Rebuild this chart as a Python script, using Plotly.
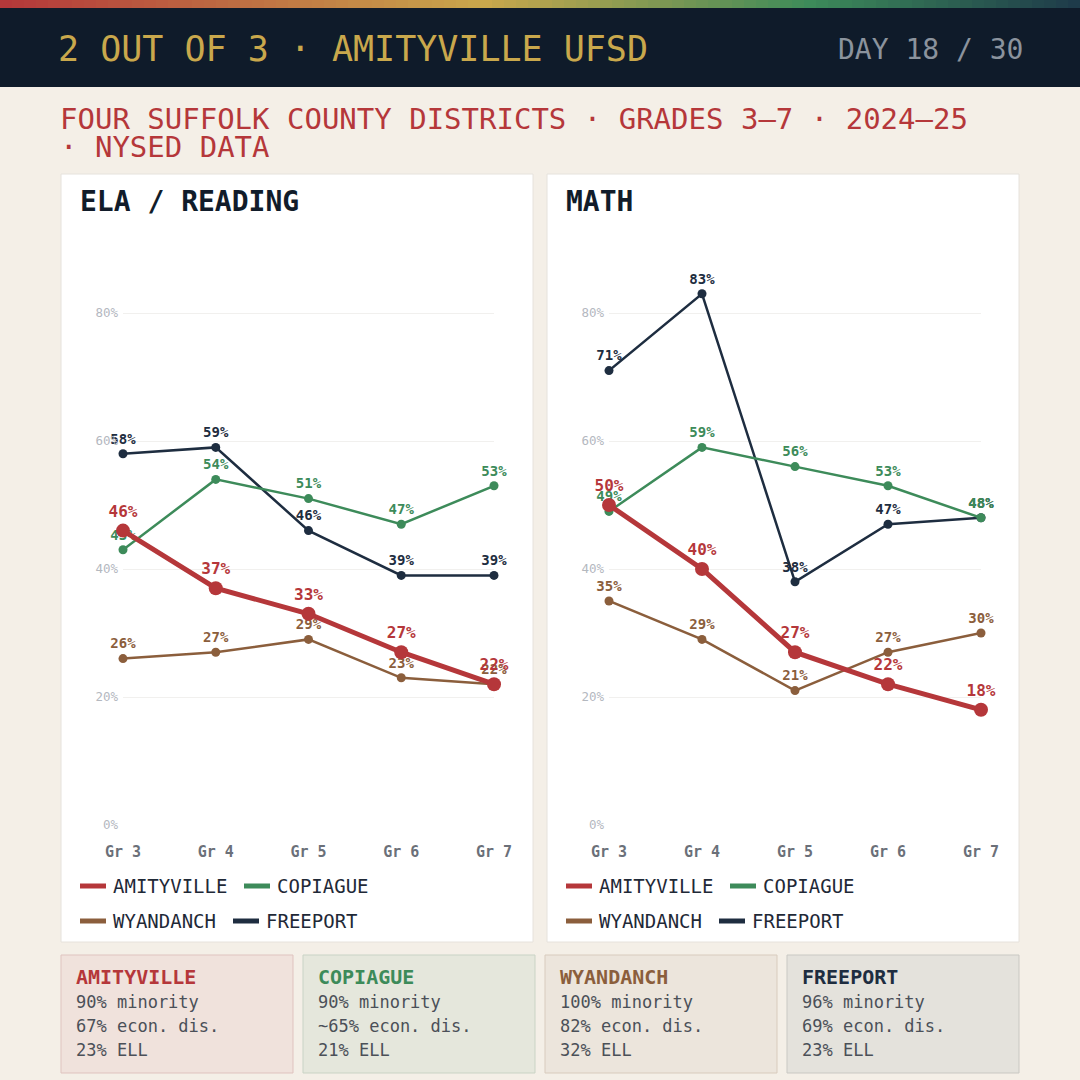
import plotly.graph_objects as go

# ---- data ----------------------------------------------------------------
grades = ["Gr 3", "Gr 4", "Gr 5", "Gr 6", "Gr 7"]
districts = ["AMITYVILLE", "COPIAGUE", "WYANDANCH", "FREEPORT"]

ela_amityville = [46, 37, 33, 27, 22]
ela_copiague = [43, 54, 51, 47, 53]
ela_wyandanch = [26, 27, 29, 23, 22]
ela_freeport = [58, 59, 46, 39, 39]

math_amityville = [50, 40, 27, 22, 18]
math_copiague = [49, 59, 56, 53, 48]
math_wyandanch = [35, 29, 21, 27, 30]
math_freeport = [71, 83, 38, 47, 48]

y_ticks = [0, 20, 40, 60, 80]
y_tick_text = ["0%", "20%", "40%", "60%", "80%"]

profile_minority = ["90% minority", "90% minority", "100% minority", "96% minority"]
profile_econ = ["67% econ. dis.", "~65% econ. dis.", "82% econ. dis.", "69% econ. dis."]
profile_ell = ["23% ELL", "21% ELL", "32% ELL", "23% ELL"]

# ---- style ---------------------------------------------------------------
FONT = "DejaVu Sans Mono"
BG = "#f4efe7"
NAVY = "#0f1b2a"
colors = {"AMITYVILLE": "#b5373a", "COPIAGUE": "#3d8b5a",
          "WYANDANCH": "#8b5e3c", "FREEPORT": "#1e2d40"}
box_fill = {"AMITYVILLE": "#f0e2dc", "COPIAGUE": "#e5e7dc",
            "WYANDANCH": "#ece5dc", "FREEPORT": "#e4e2dc"}
box_line = {"AMITYVILLE": "#dfc3bf", "COPIAGUE": "#c9d3c5",
            "WYANDANCH": "#d8cbbd", "FREEPORT": "#c9c8c3"}

W = H = 1080


def px(x):
    return x / W


def py(y):
    return 1 - y / H


def note(text, x, y, size, color, xanchor="left", yanchor="middle", **kw):
    return dict(text=text, x=px(x), y=py(y), xref="paper", yref="paper",
                xanchor=xanchor, yanchor=yanchor, showarrow=False,
                font=dict(family=FONT, size=size, color=color), **kw)


fig = go.Figure()

panels = [
    ("ELA / READING", "x", "y", 0, [ela_amityville, ela_copiague, ela_wyandanch, ela_freeport]),
    ("MATH", "x2", "y2", 486, [math_amityville, math_copiague, math_wyandanch, math_freeport]),
]

# draw order: others first, amityville on top
order = [3, 1, 2, 0]
for title, xa, ya, off, series in panels:
    for i in order:
        name = districts[i]
        vals = series[i]
        big = name == "AMITYVILLE"
        fig.add_trace(go.Scatter(
            x=grades, y=vals, xaxis=xa, yaxis=ya, name=name,
            mode="lines+markers+text",
            line=dict(color=colors[name], width=5 if big else 2.5),
            marker=dict(color=colors[name], size=14 if big else 9),
            text=[f"{v}%" for v in vals], textposition="top center",
            textfont=dict(family=FONT, size=16 if big else 14, color=colors[name], weight="bold"),
            cliponaxis=False, showlegend=False, hoverinfo="skip",
        ))

shapes = []
annotations = []

# gradient strip at top
stops = [(0.0, (181, 55, 58)), (0.45, (201, 168, 76)), (0.75, (61, 139, 90)), (1.0, (30, 58, 74))]
n = 90
for k in range(n):
    t = (k + 0.5) / n
    for (t0, c0), (t1, c1) in zip(stops[:-1], stops[1:]):
        if t0 <= t <= t1:
            f = (t - t0) / (t1 - t0)
            c = tuple(int(a + (b - a) * f) for a, b in zip(c0, c1))
    shapes.append(dict(type="rect", xref="paper", yref="paper",
                       x0=k / n, x1=(k + 1) / n + 0.002, y0=py(8), y1=1,
                       fillcolor=f"rgb{c}", line_width=0, layer="below"))

shapes.append(dict(type="rect", xref="paper", yref="paper", x0=0, x1=1,
                   y0=py(87), y1=py(8), fillcolor=NAVY, line_width=0, layer="below"))

annotations.append(note("2 OUT OF 3 · AMITYVILLE UFSD", 56, 49, 35, "#c9a84c"))
annotations.append(note("DAY 18 / 30", 1025, 49, 28, "#8b939d", xanchor="right"))
annotations.append(note("FOUR SUFFOLK COUNTY DISTRICTS · GRADES 3–7 · 2024–25", 58, 119, 29, "#b5373a"))
annotations.append(note("· NYSED DATA", 58, 147, 29, "#b5373a"))

# panels, titles, legends
for title, xa, ya, off, series in panels:
    shapes.append(dict(type="rect", xref="paper", yref="paper",
                       x0=px(61 + off), x1=px(533 + off), y0=py(942), y1=py(174),
                       fillcolor="white", line=dict(color="#e6e2dc", width=1), layer="below"))
    annotations.append(note(f"<b>{title}</b>", 78 + off, 202, 28, "#111c2a"))
    leg_pos = [(80, 886), (244, 886), (80, 921), (233, 921)]
    for i, name in enumerate(districts):
        lx, ly = leg_pos[i]
        shapes.append(dict(type="line", xref="paper", yref="paper",
                           x0=px(lx + off), x1=px(lx + 26 + off), y0=py(ly), y1=py(ly),
                           line=dict(color=colors[name], width=5)))
        annotations.append(note(name, lx + 31 + off, ly, 19, "#1f2937"))

# profile boxes
for i, name in enumerate(districts):
    bx = 61 + i * 242
    shapes.append(dict(type="rect", xref="paper", yref="paper",
                       x0=px(bx), x1=px(bx + 232), y0=py(1073), y1=py(955),
                       fillcolor=box_fill[name], line=dict(color=box_line[name], width=1),
                       layer="below"))
    annotations.append(note(f"<b>{name}</b>", bx + 13, 977, 20, colors[name]))
    for j, line in enumerate([profile_minority[i], profile_econ[i], profile_ell[i]]):
        annotations.append(note(line, bx + 13, 1002 + 24 * j, 17, "#4b5058"))

axis_x = dict(range=[0, 4], showgrid=False, zeroline=False, showline=False, automargin=False,
              ticks="", tickfont=dict(family=FONT, size=15, color="#6b7079", weight="bold"),
              ticklabelstandoff=16, fixedrange=True)
axis_y = dict(range=[0, 90], tickvals=y_ticks, ticktext=y_tick_text, showgrid=True,
              gridcolor="#f1f0ee", gridwidth=1, zeroline=False, showline=False, ticks="",
              automargin=False, tickfont=dict(family=FONT, size=12.5, color="#b4b8bf"),
              ticklabelstandoff=4, fixedrange=True)

fig.update_layout(
    width=W, height=H, margin=dict(l=0, r=0, t=0, b=0, autoexpand=False),
    paper_bgcolor=BG, plot_bgcolor="rgba(0,0,0,0)",
    showlegend=False,
    xaxis=dict(axis_x, domain=[px(123), px(494)], anchor="y"),
    yaxis=dict(axis_y, domain=[py(825), py(249)], anchor="x"),
    xaxis2=dict(axis_x, domain=[px(609), px(981)], anchor="y2"),
    yaxis2=dict(axis_y, domain=[py(825), py(249)], anchor="x2"),
    shapes=shapes, annotations=annotations,
)

# drop the browser's default body margin so the figure sits at the page corner
fig.write_html("out.html", config={"displayModeBar": False},
               post_script="document.body.style.margin = '0';")
